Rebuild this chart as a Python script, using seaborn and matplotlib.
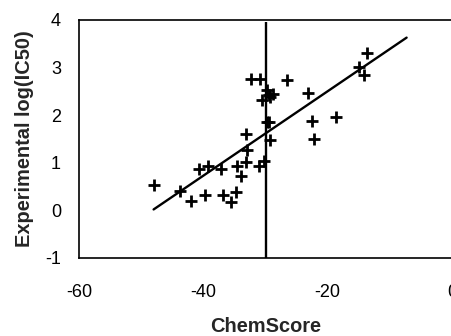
import matplotlib
matplotlib.use("Agg")
import matplotlib.pyplot as plt
import seaborn as sns
import numpy as np
import pandas as pd

# Data
chemscore = [-47.9, -43.7, -42.0, -40.7, -39.2, -39.7, -37.1, -36.8, -35.6, -34.8,
             -34.6, -33.9, -33.2, -33.0, -33.1, -32.4, -30.9, -31.0, -30.6, -30.2,
             -29.8, -29.4, -29.7, -29.4, -29.3, -28.8, -29.2, -26.6, -23.1, -22.5,
             -22.2, -18.6, -14.9, -14.2, -13.6]
log_ic50 = [0.54, 0.41, 0.19, 0.87, 0.94, 0.33, 0.87, 0.33, 0.17, 0.38,
            0.94, 0.73, 1.01, 1.27, 1.61, 2.76, 2.76, 0.94, 2.32, 1.03,
            1.85, 1.85, 2.53, 2.43, 2.39, 2.44, 1.48, 2.73, 2.46, 1.87,
            1.50, 1.97, 3.02, 2.85, 3.31]
fit_x = [-48.0, -7.3]
fit_y = [0.02, 3.63]
threshold_x = -30
threshold_top = 3.95

x_ticks = [-60, -40, -20, 0]
y_ticks = [-1, 0, 1, 2, 3, 4]

sns.set_style("white")
plt.rcParams['font.family'] = ['Liberation Sans', 'DejaVu Sans']
plt.rcParams['axes.unicode_minus'] = False

df = pd.DataFrame({"ChemScore": chemscore, "logIC50": log_ic50})
fit_df = pd.DataFrame({"x": fit_x, "y": fit_y})

fig = plt.figure(figsize=(4.51, 3.36), dpi=100)
ax = fig.add_axes([79/451, 1 - 258/336, 373/451, 238/336])

sns.lineplot(data=fit_df, x="x", y="y", ax=ax, color="black", linewidth=1.7)
ax.vlines(threshold_x, -1, threshold_top, color="black", linewidth=1.7)
sns.scatterplot(data=df, x="ChemScore", y="logIC50", ax=ax, marker="+",
                color="black", s=75, linewidth=2.0, zorder=3)

ax.set_xlim(-60, 0)
ax.set_ylim(-1, 4)
ax.set_xticks(x_ticks)
ax.set_yticks(y_ticks)
ax.tick_params(axis="both", direction="out", length=5, width=1.2,
               labelsize=13, colors="black")
ax.tick_params(axis="x", pad=14)
ax.tick_params(axis="y", pad=8)
for s in ax.spines.values():
    s.set_visible(True)
    s.set_color("black")
    s.set_linewidth(1.2)

ax.set_xlabel("ChemScore", fontsize=14.4, fontweight="bold", labelpad=11)
ax.set_ylabel("Experimental log(IC50)", fontsize=14.4, fontweight="bold", labelpad=8)

fig.savefig("out.png", dpi=100)
